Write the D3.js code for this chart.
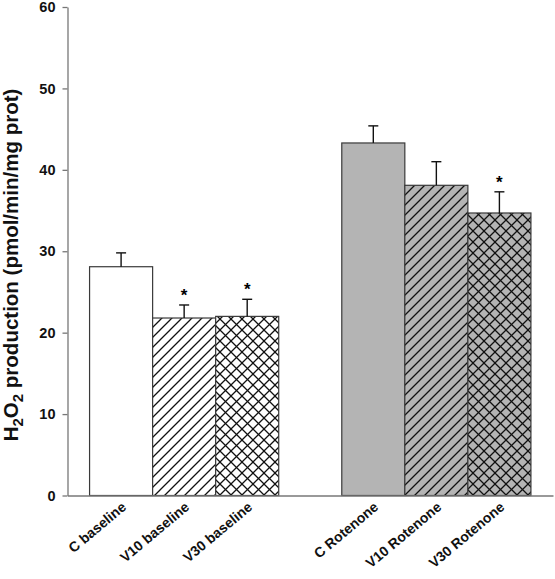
<!DOCTYPE html>
<html>
<head>
<meta charset="utf-8">
<script src="https://cdn.jsdelivr.net/npm/d3@7"></script>
<style>
  html, body { margin: 0; padding: 0; background: #fff; }
  svg { display: block; font-family: Arial, "Liberation Sans", sans-serif; }
</style>
</head>
<body>
<svg id="chart" width="555" height="579"></svg>
<script>
// ---- data ----
const categories = ["C baseline", "V10 baseline", "V30 baseline", "C Rotenone", "V10 Rotenone", "V30 Rotenone"];
const means = [28.1, 21.8, 22.0, 43.3, 38.1, 34.7];
const errors = [1.7, 1.6, 2.1, 2.1, 2.9, 2.6];
const significant = [false, true, true, false, false, true];
const fills = ["white", "hatch", "cross", "gray", "grayhatch", "graycross"];
const yTicks = [0, 10, 20, 30, 40, 50, 60];

// ---- layout ----
const svg = d3.select("#chart");
const axisX0 = 67.5, axisX1 = 553, yTop = 7, yBottom = 495.5;

const slots = categories.slice(0, 3).concat(["__gap__"], categories.slice(3));
const x = d3.scaleBand().domain(slots).range([axisX0, axisX1]).paddingInner(0).paddingOuter(0.35);
const y = d3.scaleLinear().domain([0, 60]).range([yBottom, yTop]);

// ---- patterns ----
const defs = svg.append("defs");
function makePattern(id, bg, size, cross) {
  const s = size;
  const p = defs.append("pattern").attr("id", id).attr("patternUnits", "userSpaceOnUse")
    .attr("width", s).attr("height", s);
  p.append("rect").attr("width", s).attr("height", s).attr("fill", bg);
  p.append("path").attr("d", `M-1,1 l2,-2 M0,${s} l${s},-${s} M${s - 1},${s + 1} l2,-2`)
    .attr("stroke", "#111").attr("stroke-width", 1.3);
  if (cross) {
    p.append("path").attr("d", `M-1,${s - 1} l2,2 M0,0 l${s},${s} M${s - 1},-1 l2,2`)
      .attr("stroke", "#111").attr("stroke-width", 1.3);
  }
}
const grayFill = "#b4b4b4";
makePattern("hatch", "white", 10, false);
makePattern("cross", "white", 11, true);
makePattern("grayhatch", grayFill, 10, false);
makePattern("graycross", grayFill, 11, true);
const fillFor = f => f === "white" ? "white" : f === "gray" ? grayFill : `url(#${f})`;

const data = categories.map((c, i) => ({ c, m: means[i], e: errors[i], s: significant[i], f: fills[i] }));

// ---- bars ----
svg.append("g").selectAll("rect").data(data).join("rect")
  .attr("x", d => x(d.c))
  .attr("y", d => y(d.m))
  .attr("width", x.bandwidth())
  .attr("height", d => y(0) - y(d.m))
  .attr("fill", d => fillFor(d.f))
  .attr("stroke", "#3a3a3a")
  .attr("stroke-width", 1.2);

// ---- error bars ----
const eb = svg.append("g").attr("stroke", "#111").attr("stroke-width", 1.4);
eb.selectAll("line.v").data(data).join("line").attr("class", "v")
  .attr("x1", d => x(d.c) + x.bandwidth() / 2).attr("x2", d => x(d.c) + x.bandwidth() / 2)
  .attr("y1", d => y(d.m)).attr("y2", d => y(d.m + d.e));
eb.selectAll("line.cap").data(data).join("line").attr("class", "cap")
  .attr("x1", d => x(d.c) + x.bandwidth() / 2 - 5).attr("x2", d => x(d.c) + x.bandwidth() / 2 + 5)
  .attr("y1", d => y(d.m + d.e)).attr("y2", d => y(d.m + d.e));

// ---- significance stars ----
svg.append("g").selectAll("text").data(data.filter(d => d.s)).join("text")
  .attr("x", d => x(d.c) + x.bandwidth() / 2)
  .attr("y", d => y(d.m + d.e) - 4)
  .attr("text-anchor", "middle")
  .attr("font-size", 17).attr("font-weight", "bold")
  .text("*");

// ---- y axis ----
const yAxis = svg.append("g").attr("transform", `translate(${axisX0},0)`)
  .call(d3.axisLeft(y).tickValues(yTicks).tickSize(5).tickSizeOuter(0).tickPadding(7));
yAxis.select(".domain").attr("stroke", "#777").attr("stroke-width", 1.3);
yAxis.selectAll(".tick line").attr("stroke", "#777").attr("stroke-width", 1.3);
yAxis.selectAll(".tick text").attr("font-size", 14.5).attr("font-weight", "bold").attr("fill", "#111")
  .attr("font-family", "Arial, 'Liberation Sans', sans-serif");

// ---- x axis ----
const xAxis = svg.append("g").attr("transform", `translate(0,${yBottom})`)
  .call(d3.axisBottom(x).tickValues(categories).tickSize(0).tickSizeOuter(0).tickPadding(0));
xAxis.select(".domain").attr("stroke", "#777").attr("stroke-width", 1.3);
xAxis.selectAll(".tick text")
  .attr("font-size", 14).attr("font-weight", "bold").attr("fill", "#111")
  .attr("font-family", "Arial, 'Liberation Sans', sans-serif")
  .attr("text-anchor", "end")
  .attr("dy", null)
  .attr("transform", "translate(6,13) rotate(-40)");

// ---- y axis title ----
const title = svg.append("text")
  .attr("transform", `translate(17.5,265) rotate(-90)`)
  .attr("text-anchor", "middle")
  .attr("font-size", 20.5).attr("font-weight", "bold").attr("fill", "#111");
title.append("tspan").text("H");
title.append("tspan").attr("font-size", 15).attr("dy", 5).text("2");
title.append("tspan").attr("dy", -5).text("O");
title.append("tspan").attr("font-size", 15).attr("dy", 5).text("2");
title.append("tspan").attr("dy", -5).text(" production (pmol/min/mg prot)");
</script>
</body>
</html>
